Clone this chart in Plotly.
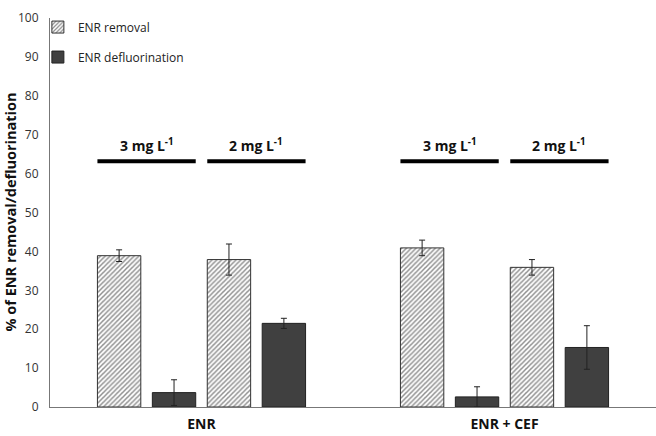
import plotly.graph_objects as go

# ---- data ----
categories = ["ENR", "ENR + CEF"]
removal_3 = [38.9, 40.9]
removal_3_err = [1.5, 2.0]
defl_3 = [3.7, 2.6]
defl_3_err = [3.3, 2.6]
removal_2 = [37.9, 35.9]
removal_2_err = [4.0, 2.0]
defl_2 = [21.5, 15.3]
defl_2_err = [1.3, 5.6]
conc_labels = ["3 mg L<sup>-1</sup>", "2 mg L<sup>-1</sup>"]
conc_line_value = 63.2
conc_text_value = 67.4
series_names = ["ENR removal", "ENR defluorination"]
y_title = "% of ENR removal/defluorination"
y_ticks = list(range(0, 101, 10))

FONT = "Open Sans, DejaVu Sans, sans-serif"
BARGAP = 0.275
GROUPGAP = 0.21

hatch = dict(shape="/", size=3.4, solidity=0.45, fgcolor="#222222", bgcolor="white")
dark = "#404040"

def err(vals):
    return dict(type="data", array=vals, visible=True, color="#222222", thickness=1, width=3)

fig = go.Figure()
traces = [
    (removal_3, removal_3_err, 0, True),
    (defl_3, defl_3_err, 1, True),
    (removal_2, removal_2_err, 0, False),
    (defl_2, defl_2_err, 1, False),
]
for vals, errs, kind, show in traces:
    if kind == 0:
        marker = dict(color="white", pattern=hatch, line=dict(color="#333333", width=1))
    else:
        marker = dict(color=dark, line=dict(color="#222222", width=1))
    fig.add_trace(go.Bar(
        x=categories, y=vals, error_y=err(errs), marker=marker,
        name=series_names[kind], legendgroup=series_names[kind], showlegend=show,
    ))

# concentration lines and labels, spanning each pair of bars
slot = (1 - BARGAP) / 4
inner = slot * GROUPGAP / 2
shapes = []
annotations = []
for ci in range(len(categories)):
    for k, lab in enumerate(conc_labels):
        x0 = ci - (1 - BARGAP) / 2 + 2 * k * slot + inner
        x1 = ci - (1 - BARGAP) / 2 + 2 * (k + 1) * slot - inner
        shapes.append(dict(type="line", xref="x", yref="y", x0=x0, x1=x1,
                           y0=conc_line_value, y1=conc_line_value,
                           line=dict(color="black", width=4)))
        annotations.append(dict(x=(x0 + x1) / 2, y=conc_text_value, xref="x", yref="y",
                                text="<b>" + lab + "</b>", showarrow=False,
                                font=dict(family=FONT, size=14, color="#111111")))

# y-axis title as a rotated annotation
annotations.append(dict(x=-40 / 606, y=0.5, xref="paper", yref="paper",
                        xanchor="center", yanchor="middle", textangle=-90,
                        text="<b>" + y_title + "</b>", showarrow=False,
                        font=dict(family=FONT, size=14.5, color="#111111")))

fig.update_layout(
    width=656, height=436,
    margin=dict(l=50, r=0, t=18, b=29),
    barmode="group", bargap=BARGAP, bargroupgap=GROUPGAP,
    plot_bgcolor="white", paper_bgcolor="white",
    font=dict(family=FONT, size=12, color="#333333"),
    shapes=shapes, annotations=annotations,
    legend=dict(x=-0.02, y=1.014, xanchor="left", yanchor="top",
                traceorder="grouped", tracegroupgap=11, itemwidth=30,
                font=dict(family=FONT, size=12, color="#222222"),
                bgcolor="rgba(0,0,0,0)"),
    xaxis=dict(range=[-0.5, 1.5], showline=True, linecolor="#777777", linewidth=1,
               ticks="", showgrid=False, zeroline=False, ticklabelstandoff=4,
               tickfont=dict(family=FONT, size=14, color="#111111"),
               tickvals=[0, 1], ticktext=["<b>%s</b>" % c for c in categories]),
    yaxis=dict(range=[0, 100], tickvals=y_ticks, showline=True, linecolor="#777777",
               linewidth=1, showgrid=False, zeroline=False, ticks="",
               ticklabelstandoff=8,
               tickfont=dict(family=FONT, size=12, color="#333333")),
)

fig.write_html("out.html")
